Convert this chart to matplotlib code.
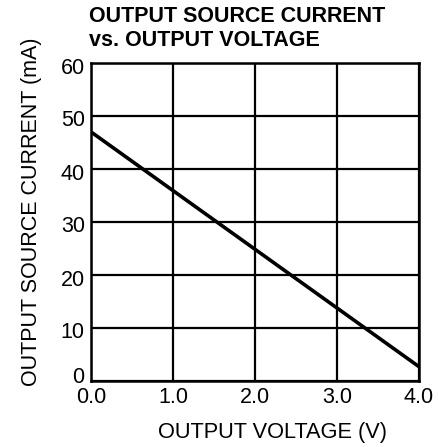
import matplotlib.pyplot as plt
import matplotlib.transforms as mtransforms

plt.rcParams['font.family'] = ['Liberation Sans', 'DejaVu Sans']

# data
voltage = [0.0, 4.0]
current = [47.0, 2.7]
x_ticks = [0.0, 1.0, 2.0, 3.0, 4.0]
y_ticks = [0, 10, 20, 30, 40, 50, 60]

W, H = 439, 447
fig = plt.figure(figsize=(W / 100, H / 100), dpi=100)
ax = fig.add_axes([91 / W, 1 - 381 / H, 328 / W, 318 / H])

ax.plot(voltage, current, color='black', linewidth=2.6, solid_capstyle='butt')

ax.set_xlim(0, 4)
ax.set_ylim(0, 60)
ax.set_xticks(x_ticks)
ax.set_xticklabels([f"{v:.1f}" for v in x_ticks])
ax.set_yticks(y_ticks)
ax.set_yticklabels([str(v) for v in y_ticks])
ax.tick_params(length=0, labelsize=15.5, colors='black')
ax.tick_params(axis='y', pad=4.5)
ax.tick_params(axis='x', pad=4.5)
ax.grid(True, color='black', linewidth=1.6)
for s in ax.spines.values():
    s.set_linewidth(1.8)

# nudge y labels slightly down, "0" up off the x labels
for lab, v in zip(ax.get_yticklabels(), y_ticks):
    dy = 0.06 if v == 0 else -0.025
    lab.set_transform(lab.get_transform() + mtransforms.ScaledTranslation(0, dy, fig.dpi_scale_trans))

fig.text(272 / W, 1 - 422 / H, "OUTPUT VOLTAGE (V)", fontsize=15.7, ha='center', va='top')
fig.text(32 / W, 1 - 212 / H, "OUTPUT SOURCE CURRENT (mA)", fontsize=15.5,
         rotation=90, ha='center', va='center')

fig.text(89 / W, 1 - 6 / H, "OUTPUT SOURCE CURRENT\nvs. OUTPUT VOLTAGE",
         fontsize=15.5, fontweight='bold', ha='left', va='top', linespacing=1.2)

fig.savefig("out.png", dpi=100)
